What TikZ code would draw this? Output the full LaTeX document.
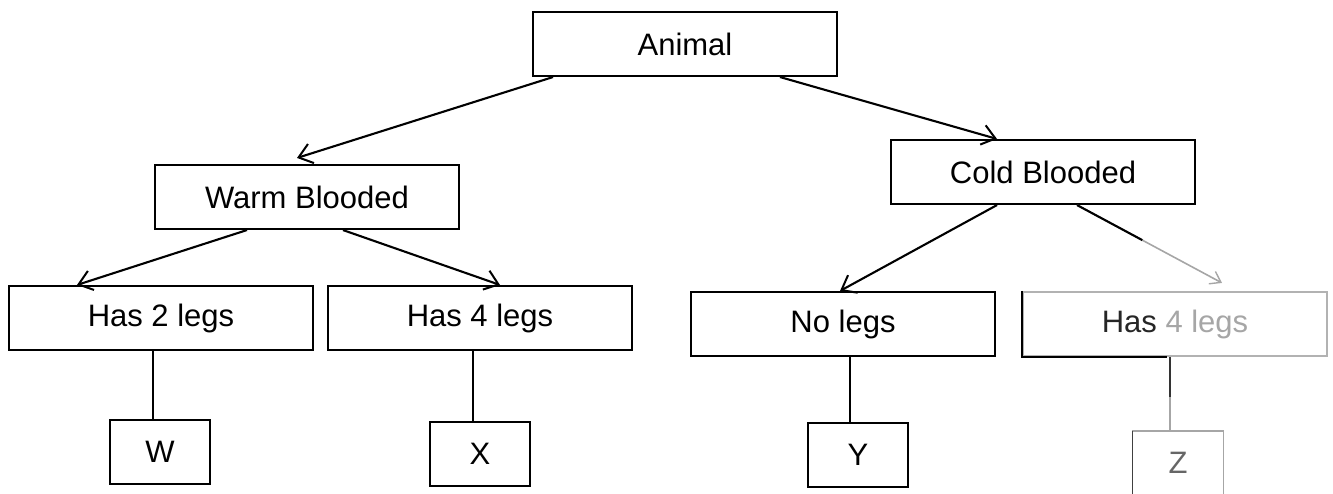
\documentclass[tikz,border=0pt]{standalone}
\usepackage{fontspec}
\setmainfont{Liberation Sans}
\usetikzlibrary{arrows.meta,calc}
\tikzset{
  box/.style={draw=black, line width=2.1pt, inner sep=0pt, font=\fontsize{31}{36}\selectfont, text=black},
  topbox/.style={box, minimum width=304pt, minimum height=64pt},
  leafbox/.style={box, minimum width=100pt, minimum height=64pt},
  faintbox/.style={box, draw=black!30, text=black!35},
  conn/.style={line width=2.1pt, draw=black},
  arr/.style={conn, -{Straight Barb[length=13pt,width=20pt,line width=2pt]}},
  faintconn/.style={line width=1.6pt, draw=black!35},
  darkedge/.style={line width=2.4pt, draw=black}
}
\begin{document}
\begin{tikzpicture}[x=1pt,y=-1pt]
\useasboundingbox (0,0) rectangle (1333,493);
% top level
\node[topbox] (animal) at (685,44) {Animal};
\node[topbox] (warm) at (307,197) {Warm Blooded};
\node[topbox] (cold) at (1043,172) {Cold Blooded};
% second level
\node[topbox] (has2) at (161,318) {Has 2 legs};
\node[topbox] (has4a) at (480,318) {Has 4 legs};
\node[topbox] (nolegs) at (843,324) {No legs};
\node[topbox, faintbox] (has4b) at (1175,324) {\textcolor{black!85}{Has} 4 legs};
\draw[darkedge] (has4b.north west) -- (has4b.south west) -- ([xshift=-8pt]has4b.south);
% leaves
\node[leafbox] (W) at (160,452) {W};
\node[leafbox] (X) at (480,454) {X};
\node[leafbox] (Y) at (858,455) {Y};
\node[leafbox, draw=none, text=black!60, minimum width=89pt, minimum height=62pt] (Z) at (1178,463) {Z};
\draw[faintconn] (Z.south west) -- (Z.north west) -- (Z.north east) -- (Z.south east);
\draw[line width=1.8pt, draw=black!75] (Z.south west) -- (Z.north west);
% arrows
\draw[arr] ([xshift=-132pt]animal.south) -- ([xshift=-10pt,yshift=6pt]warm.north);
\draw[arr] ([xshift=95pt]animal.south) -- ([xshift=-46pt]cold.north);
\draw[arr] ([xshift=-60pt]warm.south) -- ([xshift=-84pt]has2.north);
\draw[arr] ([xshift=36pt]warm.south) -- ([xshift=20pt]has4a.north);
\draw[arr] ([xshift=-46pt]cold.south) -- ([xshift=-3pt]nolegs.north);
\coordinate (cs) at ([xshift=34pt]cold.south);
\coordinate (ce) at ([xshift=47pt,yshift=8pt]has4b.north);
\draw[faintconn, -{Straight Barb[length=10pt,width=14pt,line width=1.4pt]}] (cs) -- (ce);
\draw[conn] (cs) -- ($(cs)!0.45!(ce)$);
% lines to leaves
\draw[conn] ([xshift=-7pt]W.north) -- ([xshift=-7pt]W.north |- has2.south);
\draw[conn] ([xshift=-7pt]X.north) -- ([xshift=-7pt]X.north |- has4a.south);
\draw[conn] ([xshift=-8pt]Y.north) -- ([xshift=-8pt]Y.north |- nolegs.south);
\draw[faintconn] ([xshift=-8pt]Z.north) -- ([xshift=-8pt]Z.north |- has4b.south);
\draw[conn, draw=black!80] ([xshift=-8pt]Z.north |- has4b.south) -- ++(0,40);
\end{tikzpicture}
\end{document}
